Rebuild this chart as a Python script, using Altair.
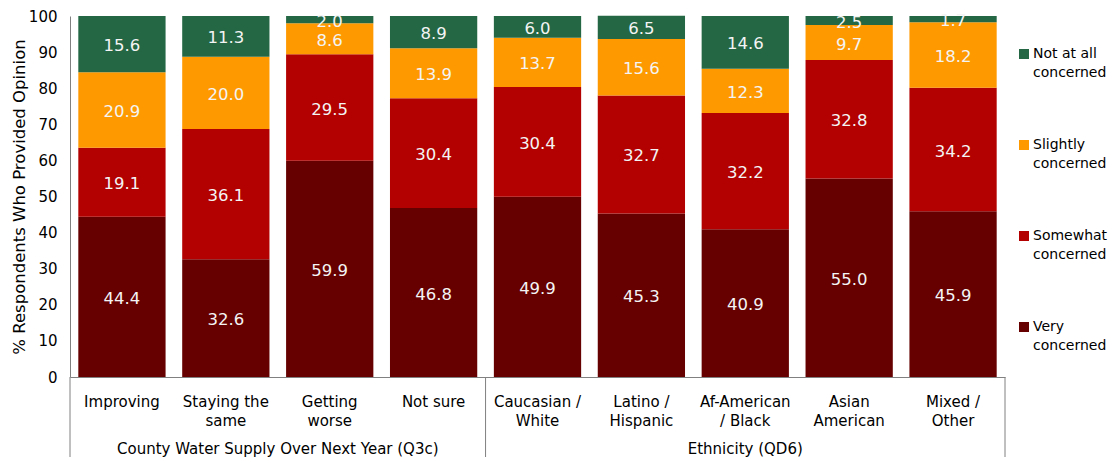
import altair as alt
import pandas as pd

# ---- data ----
categories = ["Improving", "Staying the|same", "Getting|worse", "Not sure",
              "Caucasian /|White", "Latino /|Hispanic", "Af-American|/ Black",
              "Asian|American", "Mixed /|Other"]
very = [44.4, 32.6, 59.9, 46.8, 49.9, 45.3, 40.9, 55.0, 45.9]
somewhat = [19.1, 36.1, 29.5, 30.4, 30.4, 32.7, 32.2, 32.8, 34.2]
slightly = [20.9, 20.0, 8.6, 13.9, 13.7, 15.6, 12.3, 9.7, 18.2]
not_at_all = [15.6, 11.3, 2.0, 8.9, 6.0, 6.5, 14.6, 2.5, 1.7]

series_names = ["Very concerned", "Somewhat concerned", "Slightly concerned", "Not at all concerned"]
series_colors = ["#660000", "#B30000", "#FF9900", "#246744"]

group_names = ["County Water Supply Over Next Year (Q3c)", "Ethnicity (QD6)"]
group_first = [0, 4]   # index of first category in group
group_last = [4, 9]    # index after last category in group
boundaries = [0, 4, 9]

FONT = "DejaVu Sans"
W, H = 935, 361

rows = []
for si, (name, vals) in enumerate(zip(series_names, [very, somewhat, slightly, not_at_all])):
    for c, v in zip(categories, vals):
        rows.append({"cat": c, "series": name, "rank": si, "value": v})
df = pd.DataFrame(rows)

gdf = pd.DataFrame({"group": group_names,
                    "mid": [(a + b) / 2 for a, b in zip(group_first, group_last)]})
bdf = pd.DataFrame({"b": boundaries})

xscale = alt.Scale(paddingInner=0.16, paddingOuter=0.08)
yscale = alt.Scale(domain=[0, 100], nice=False)
yaxis = alt.Axis(title="% Respondents Who Provided Opinion",
                 values=list(range(0, 101, 10)), grid=False, ticks=False,
                 tickSize=0, labelPadding=13, labelFont=FONT,
                 labelFontSize=15, labelColor="#000000",
                 titleFont=FONT, titleFontSize=16.5, titleFontWeight="normal",
                 titleColor="#000000", titlePadding=1,
                 domainColor="#808080", domainWidth=1)

legend_order = series_names[::-1]
legend_colors = series_colors[::-1]

bars = alt.Chart(df).mark_bar().encode(
    x=alt.X("cat:N", sort=categories, scale=xscale,
            axis=alt.Axis(title=None, ticks=False, labelAngle=0,
                          labelExpr="split(datum.label, '|')",
                          labelFont=FONT, labelFontSize=15, labelColor="#000000",
                          labelLineHeight=19, labelPadding=17,
                          domainColor="#808080", domainWidth=1)),
    y=alt.Y("value:Q", stack="zero", scale=yscale, axis=yaxis),
    color=alt.Color("series:N",
                    scale=alt.Scale(domain=legend_order, range=legend_colors),
                    legend=alt.Legend(orient="none", legendX=947, legendY=31,
                                      title=None, padding=0,
                                      symbolType="square",
                                      symbolSize=100, symbolStrokeWidth=0,
                                      labelFont=FONT, labelFontSize=14,
                                      labelColor="#000000",
                                      labelOffset=2, rowPadding=58,
                                      labelExpr="[replace(datum.label, ' concerned', ''), 'concerned']")),
    order=alt.Order("rank:Q"),
)

labels = alt.Chart(df).transform_stack(
    stack="value", groupby=["cat"], sort=[alt.SortField("rank")], as_=["y0", "y1"]
).transform_calculate(
    mid="(datum.y0 + datum.y1) / 2"
).mark_text(font=FONT, fontSize=16.5, color="#F4F4F4", baseline="middle", dy=2).encode(
    x=alt.X("cat:N", sort=categories, scale=xscale, axis=None),
    y=alt.Y("mid:Q", scale=yscale, axis=yaxis),
    text=alt.Text("value:Q", format=".1f"),
)

sep = alt.Chart(bdf).mark_rule(color="#808080", strokeWidth=1).encode(
    x=alt.X("b:Q", scale=alt.Scale(domain=[0, 9], nice=False, zero=False), axis=None),
    y=alt.value(H),
    y2=alt.value(H + 110),
)

gtext = alt.Chart(gdf).mark_text(font=FONT, fontSize=15, color="#000000",
                                  baseline="middle").encode(
    x=alt.X("mid:Q", scale=alt.Scale(domain=[0, 9], nice=False, zero=False), axis=None),
    y=alt.value(H + 72),
    text="group:N",
)

chart = alt.layer(bars, labels, sep, gtext).resolve_scale(
    x="independent"
).properties(
    width=W, height=H,
    autosize=alt.AutoSizeParams(type="none"),
    padding={"left": 62, "top": 8, "right": 104, "bottom": 80},
).configure(
    style={"guide-label": {"lineHeight": 19}},
).configure_view(stroke=None)

chart.save("out.html", embed_options={"renderer": "svg", "actions": False})
